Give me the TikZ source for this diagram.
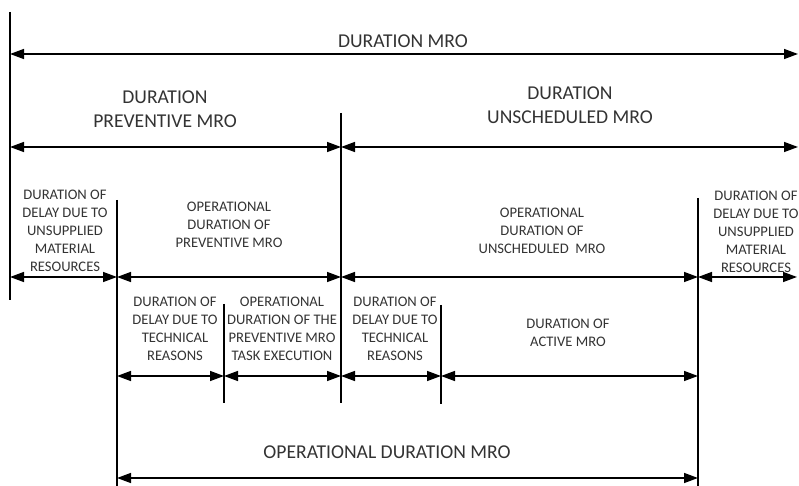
\documentclass[tikz,border=0pt]{standalone}
\usepackage{fontspec}
\setmainfont{Carlito}
\usetikzlibrary{arrows.meta}

\tikzset{
  dim/.style={line width=0.7pt,{Triangle[length=7pt,width=5pt]}-{Triangle[length=7pt,width=5pt]}},
  bar/.style={line width=0.8pt},
  biglabel/.style={font=\fontsize{9.8}{12}\selectfont,align=center,text=black!80},
  smalllabel/.style={font=\fontsize{7.3}{9}\selectfont,align=center,text=black!80}
}

\begin{document}
\begin{tikzpicture}[x=0.5pt,y=-0.5pt]
			\useasboundingbox (0,0) rectangle (799,486);

			% vertical limits
			\draw[bar] (10,12) -- (10,300);
			\draw[bar] (117,200) -- (117,490);
			\draw[bar] (224,304) -- (224,403);
			\draw[bar] (341,113) -- (341,403);
			\draw[bar] (441,305) -- (441,404);
			\draw[bar] (698,198) -- (698,490);

			% end points of the arrows
			\coordinate (a0) at (10,54);
			\coordinate (a1) at (798,54);
			\coordinate (b0) at (10,147);
			\coordinate (b1) at (341,147);
			\coordinate (b2) at (798,147);
			\coordinate (c0) at (10,277);
			\coordinate (c1) at (117,277);
			\coordinate (c2) at (341,277);
			\coordinate (c3) at (698,277);
			\coordinate (c4) at (797,277);
			\coordinate (d0) at (117,376);
			\coordinate (d1) at (224,376);
			\coordinate (d2) at (341,376);
			\coordinate (d3) at (441,376);
			\coordinate (d4) at (698,376);
			\coordinate (e0) at (117,478);
			\coordinate (e1) at (698,478);

			\draw[dim] (a0) -- (a1);

			\draw[dim] (b0) -- (b1);
			\draw[dim] (b1) -- (b2);

			\draw[dim] (c0) -- (c1);
			\draw[dim] (c1) -- (c2);
			\draw[dim] (c2) -- (c3);
			\draw[dim] (c3) -- (c4);

			\draw[dim] (d0) -- (d1);
			\draw[dim] (d1) -- (d2);
			\draw[dim] (d2) -- (d3);
			\draw[dim] (d3) -- (d4);

			\draw[dim] (e0) -- (e1);

			% labels
			\node[biglabel] (total) at (403,41) {DURATION MRO};
			\node[biglabel] (prev) at (165,109) {DURATION\\PREVENTIVE MRO};
			\node[biglabel] (unsch) at (570,105) {DURATION\\UNSCHEDULED MRO};

			\node[smalllabel] (supplyL) at (65,231) {DURATION OF\\DELAY DUE TO\\UNSUPPLIED\\MATERIAL\\RESOURCES};
			\node[smalllabel] (opprev) at (229,225) {OPERATIONAL\\DURATION OF\\PREVENTIVE MRO};
			\node[smalllabel] (opunsch) at (542,231) {OPERATIONAL\\DURATION OF\\UNSCHEDULED\ \ MRO};
			\node[smalllabel] (supplyR) at (756,232) {DURATION OF\\DELAY DUE TO\\UNSUPPLIED\\MATERIAL\\RESOURCES};

			\node[smalllabel] (techA) at (175,329) {DURATION OF\\DELAY DUE TO\\TECHNICAL\\REASONS};
			\node[smalllabel] (task) at (282,329) {OPERATIONAL\\DURATION OF THE\\PREVENTIVE MRO\\TASK EXECUTION};
			\node[smalllabel] (techB) at (395,329) {DURATION OF\\DELAY DUE TO\\TECHNICAL\\REASONS};
			\node[smalllabel] (active) at (568,333) {DURATION OF\\ACTIVE MRO};

			\node[biglabel] (opdur) at (387,452) {OPERATIONAL DURATION MRO};
		\end{tikzpicture}
\end{document}
